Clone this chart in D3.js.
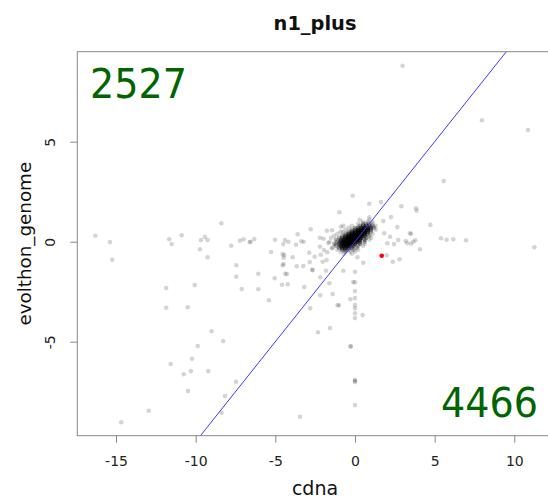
<!DOCTYPE html>
<html>
<head>
<meta charset="utf-8">
<script src="https://cdn.jsdelivr.net/npm/d3@7"></script>
<style>
  body { margin: 0; background: #fff; }
  text { font-family: "DejaVu Sans", sans-serif; }
</style>
</head>
<body>
<div id="chart-area"></div>
<script>
// values (cdna, evolthon_genome)
var xTicks = [-15, -10, -5, 0, 5, 10];
var yTicks = [-5, 0, 5];
var countTopLeft = "2527";
var countBottomRight = "4466";

// scattered genes
var outliers = [
    [-11.85,-2.32],[-10.06,-2.17],[-7.45,-1.75],[-6.07,-1.60],[-5.04,-1.83],[-4.38,-1.60],[-7.11,-2.37],
    [-6.07,-2.38],[-4.58,-2.15],[-4.22,-2.13],[-5.40,-2.93],[-11.85,-3.30],[-10.50,-3.28],[-9.00,-4.48],
    [-8.27,-4.97],[-9.87,-5.22],[-10.23,-5.85],[-11.57,-6.12],[-10.30,-6.47],[-9.21,-6.47],[-10.75,-6.63],
    [-7.47,-7.00],[-10.48,-7.47],[-8.16,-7.72],[-8.37,-8.55],[-12.95,-8.45],[-14.67,-9.03],
    [-16.30,0.30],[-15.38,-0.02],[-15.24,-0.90],[-11.66,0.12],[-11.51,-0.12],[-10.88,0.32],[-8.39,0.92],
    [-9.67,0.08],[-9.42,0.24],[-9.25,0.08],[-9.73,-0.38],[-9.25,-0.78],[-7.77,-0.20],[-7.22,0.05],
    [-6.99,0.12],[-6.61,-0.02],[-6.55,0.00],[-6.32,0.13],[-5.02,0.10],[-4.39,0.08],[-5.27,-0.52],
    [-4.54,-0.62],[-4.48,-0.80],[-7.45,-1.18],[-4.54,-1.18],
    [-3.18,-2.27],[-2.18,-1.78],[-1.61,-2.08],[-2.18,-2.68],[-1.40,-2.62],[-2.81,-3.33],[-1.09,-3.18],
    [-1.00,-3.18],[-0.29,-2.88],[0,-1.5],[0,-2.03],[0,-2.47],[0,-2.82],[0,-3.17],[0,-3.33],[0,-3.58],
    [0,-3.82],[0.48,-3.67],[-2.32,-4.53],[-1.57,-4.32],[-0.27,-5.25],[-0.27,-5.22],[0,-6.92],[0,-6.95],
    [0,-7.02],[0,-8.17],[-3.45,-8.75],[-1.82,-1.45],[-0.73,-1.45],[-2.66,-1.42],
    [2.99,8.8],[7.97,6.07],[10.86,5.58],[5.57,3.03],[11.26,-0.28],[6.97,0.07],[6.17,0.12],[5.75,0.10],
    [5.40,0.17],[4.73,0.84],[4.08,-0.38],[3.79,0.07],[3.52,0.40],[3.52,-0.10],[3.18,0.03],[2.72,0.08],
    [2.45,-0.12],[2.66,0.73],[3.83,1.67],[3.87,1.55],[2.91,1.77],[2.26,1.23],[1.78,1.03],[1.63,1.98],
    [2.80,-0.88],[2.37,-1.00],[1.99,-0.68],
    [-0.14,2.30],[0.90,1.90],[-0.98,1.47],[0.90,1.22],[-0.88,0.75],[-0.73,0.80],[-1.44,0.57],[-1.76,0.55],
    [-0.77,0.48],[-2.78,0.62],[-3.60,0.37],[-4.18,0],[-4.50,-0.12],[-3.37,0.02],[-3.22,0],[-3.70,-0.15],
    [-2.20,0.2],[-1.97,0.15],[-1.67,-0.07],[-1.19,-0.13],[-1.46,-0.33],[-2.20,-0.25],[-1.95,-0.42],
    [-1.74,-0.53],[-2.87,-0.55],[-2.53,-0.75],[-2.15,-0.65],[-4.44,-0.67],[-3.91,-0.78],[-2.84,-1.02],
    [-3.66,-1.23],[-3.25,-1.22],[-2.68,-1.4],[-2.03,-1.0],[-1.78,-0.92],[-4.27,-1.62],[-4.48,-1.12],
    [-0.11,-2.02],[0.15,-0.78],[0.52,-1.05],[3.28,-0.07],[3.66,0],[3.45,0.42],[1.84,0.42],[2.03,-0.08],
    [2.20,0.25]
];

// dense core around the origin: [cdna, genome, number of overlapping genes]
var cluster = [
    [0.3,1.1,1],[0.9,1.1,1],
    [0.5,1.0,1],[0.8,1.0,1],[1.1,1.0,1],
    [0.2,0.9,1],[0.5,0.9,2],[0.7,0.9,2],[0.9,0.9,2],[1.1,0.9,1],
    [-0.2,0.8,1],[0.3,0.8,2],[0.5,0.8,3],[0.7,0.8,4],[0.9,0.8,3],[1.1,0.8,2],[1.3,0.8,1],
    [-0.4,0.7,1],[0.0,0.7,2],[0.2,0.7,3],[0.4,0.7,5],[0.6,0.7,7],[0.8,0.7,6],[1.0,0.7,4],[1.2,0.7,2],
    [-0.6,0.6,1],[-0.2,0.6,2],[0.0,0.6,3],[0.2,0.6,6],[0.4,0.6,8],[0.6,0.6,8],[0.8,0.6,7],[1.0,0.6,3],[1.3,0.6,1],
    [-0.9,0.5,1],[-0.4,0.5,2],[-0.2,0.5,4],[0.0,0.5,6],[0.2,0.5,9],[0.4,0.5,9],[0.6,0.5,8],[0.8,0.5,5],[1.0,0.5,2],
    [-1.1,0.4,1],[-0.6,0.4,2],[-0.4,0.4,4],[-0.2,0.4,7],[0.0,0.4,9],[0.2,0.4,10],[0.4,0.4,9],[0.6,0.4,7],[0.8,0.4,3],[1.1,0.4,1],
    [-1.3,0.3,1],[-0.8,0.3,2],[-0.6,0.3,4],[-0.4,0.3,7],[-0.2,0.3,9],[0.0,0.3,10],[0.2,0.3,10],[0.4,0.3,8],[0.6,0.3,5],[0.9,0.3,2],
    [-1.5,0.2,1],[-1.0,0.2,2],[-0.8,0.2,3],[-0.6,0.2,6],[-0.4,0.2,9],[-0.2,0.2,10],[0.0,0.2,10],[0.2,0.2,9],[0.4,0.2,6],[0.7,0.2,3],[1.0,0.2,1],
    [-1.2,0.1,2],[-0.9,0.1,4],[-0.7,0.1,7],[-0.5,0.1,9],[-0.3,0.1,10],[-0.1,0.1,10],[0.1,0.1,9],[0.3,0.1,6],[0.6,0.1,3],[0.9,0.1,1],
    [-1.6,0.0,1],[-1.1,0.0,2],[-0.9,0.0,5],[-0.7,0.0,8],[-0.5,0.0,10],[-0.3,0.0,10],[-0.1,0.0,9],[0.1,0.0,7],[0.3,0.0,4],[0.6,0.0,2],
    [-1.3,-0.1,2],[-1.0,-0.1,4],[-0.8,-0.1,7],[-0.6,-0.1,9],[-0.4,-0.1,9],[-0.2,-0.1,8],[0.0,-0.1,5],[0.3,-0.1,3],[0.6,-0.1,1],
    [-1.2,-0.2,2],[-0.9,-0.2,5],[-0.7,-0.2,8],[-0.5,-0.2,8],[-0.3,-0.2,6],[-0.1,-0.2,4],[0.2,-0.2,2],[0.5,-0.2,1],
    [-1.4,-0.3,1],[-1.0,-0.3,3],[-0.8,-0.3,5],[-0.6,-0.3,6],[-0.4,-0.3,4],[-0.2,-0.3,3],[0.1,-0.3,2],
    [-1.1,-0.4,1],[-0.8,-0.4,3],[-0.6,-0.4,3],[-0.4,-0.4,2],[-0.1,-0.4,2],[0.2,-0.4,1],
    [-0.9,-0.5,1],[-0.6,-0.5,2],[-0.3,-0.5,1],[0.0,-0.5,1],
    [-0.7,-0.6,1],[-0.2,-0.6,1]
];

var highlight = [[1.68, -0.70]];
var diagonal = [[-20, -20], [20, 20]];

var width = 548;
var height = 498;
var plot = { left: 77.3, right: 553, top: 51.7, bottom: 435.7 };

var svg = d3.select("#chart-area").append("svg")
    .attr("width", width)
    .attr("height", height);

svg.append("rect")
    .attr("width", width)
    .attr("height", height)
    .attr("fill", "#fff");

var x = d3.scaleLinear()
    .domain([-17.43, 12.43])
    .range([plot.left, plot.right]);

var y = d3.scaleLinear()
    .domain([-9.7, 9.5])
    .range([plot.bottom, plot.top]);

svg.append("clipPath")
    .attr("id", "clip")
  .append("rect")
    .attr("x", plot.left)
    .attr("y", plot.top)
    .attr("width", plot.right - plot.left)
    .attr("height", plot.bottom - plot.top);

var g = svg.append("g").attr("clip-path", "url(#clip)");

// expand the cluster counts into single genes
var clusterPoints = [];
cluster.forEach((d) => {
    for (var i = 0; i < d[2]; i++) clusterPoints.push([d[0], d[1]]);
});

g.selectAll("circle.gene")
    .data(outliers.concat(clusterPoints))
    .enter()
    .append("circle")
    .attr("class", "gene")
    .attr("cx", (d) => { return x(d[0]); })
    .attr("cy", (d) => { return y(d[1]); })
    .attr("r", 2.3)
    .attr("fill", "#000")
    .attr("fill-opacity", 0.17);

g.selectAll("circle.hl")
    .data(highlight)
    .enter()
    .append("circle")
    .attr("class", "hl")
    .attr("cx", (d) => { return x(d[0]); })
    .attr("cy", (d) => { return y(d[1]); })
    .attr("r", 2.3)
    .attr("fill", "#ff0000");

var line = d3.line()
    .x((d) => { return x(d[0]); })
    .y((d) => { return y(d[1]); });

g.append("path")
    .datum(diagonal)
    .attr("d", line)
    .attr("fill", "none")
    .attr("stroke", "#3b3bff")
    .attr("stroke-width", 1);

// box
svg.append("rect")
    .attr("x", plot.left)
    .attr("y", plot.top)
    .attr("width", plot.right - plot.left)
    .attr("height", plot.bottom - plot.top)
    .attr("fill", "none")
    .attr("stroke", "#888")
    .attr("stroke-width", 1);

var bottomAxis = d3.axisBottom(x)
    .tickValues(xTicks)
    .tickSize(7)
    .tickPadding(13)
    .tickFormat((d) => { return d; });
var xg = svg.append("g")
    .attr("transform", "translate(0, " + plot.bottom + ")")
    .call(bottomAxis);
xg.select(".domain").remove();
xg.selectAll("line").attr("stroke", "#888");
xg.selectAll("text")
    .attr("font-size", "14px")
    .attr("font-family", "DejaVu Sans")
    .attr("fill", "#222");

var leftAxis = d3.axisLeft(y)
    .tickValues(yTicks)
    .tickSize(7)
    .tickFormat((d) => { return d; });
var yg = svg.append("g")
    .attr("transform", "translate(" + plot.left + ", 0)")
    .call(leftAxis);
yg.select(".domain").remove();
yg.selectAll("line").attr("stroke", "#888");
yg.selectAll("text")
    .attr("font-size", "14px")
    .attr("font-family", "DejaVu Sans")
    .attr("fill", "#222")
    .attr("text-anchor", "middle")
    .attr("x", 0)
    .attr("y", 0)
    .attr("dy", "0")
    .attr("transform", "translate(-22.3, 0) rotate(-90)");

// title and labels
svg.append("text")
    .attr("transform", "translate(315, 30) scale(0.97, 1)")
    .attr("text-anchor", "middle")
    .attr("font-size", "20px")
    .attr("font-weight", "bold")
    .attr("fill", "#111")
    .text("n1_plus");

svg.append("text")
    .attr("x", 315)
    .attr("y", 495)
    .attr("text-anchor", "middle")
    .attr("font-size", "19px")
    .attr("fill", "#111")
    .text("cdna");

svg.append("text")
    .attr("transform", "translate(31, " + ((plot.top + plot.bottom) / 2) + ") rotate(-90)")
    .attr("text-anchor", "middle")
    .attr("font-size", "18.3px")
    .attr("fill", "#111")
    .text("evolthon_genome");

svg.append("text")
    .attr("transform", "translate(90, 98) scale(0.93, 1)")
    .attr("font-size", "41px")
    .attr("fill", "#006400")
    .text(countTopLeft);

svg.append("text")
    .attr("transform", "translate(538, 417) scale(0.93, 1)")
    .attr("text-anchor", "end")
    .attr("font-size", "41px")
    .attr("fill", "#006400")
    .text(countBottomRight);
</script>
</body>
</html>
